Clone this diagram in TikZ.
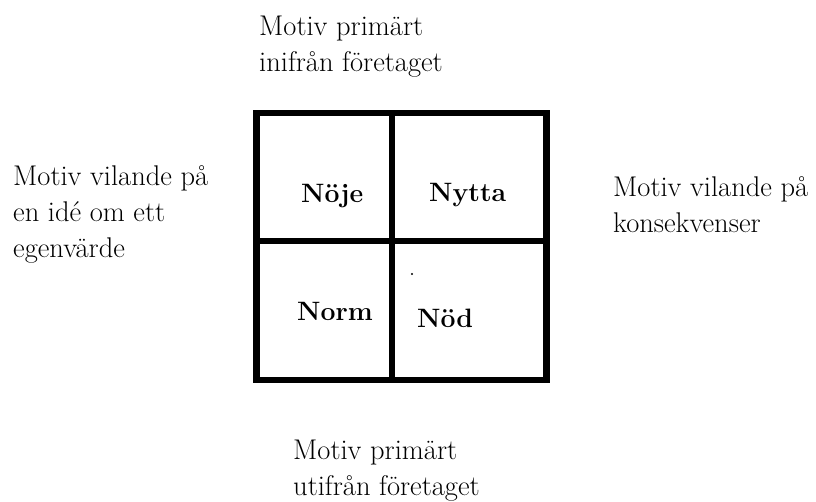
\documentclass[tikz,border=0pt]{standalone}
\begin{document}
\begin{tikzpicture}[x=1pt,y=-1pt,
  lbl/.style={anchor=base west,inner sep=0pt,font=\rmfamily\fontsize{28.5}{35}\selectfont},
  cell/.style={anchor=base west,inner sep=0pt,font=\rmfamily\fontsize{26.6}{36}\selectfont\bfseries},
  grid/.style={line width=6.3pt,line cap=rect,line join=miter}]
\useasboundingbox (0,0) rectangle (816,502);
% grid
\coordinate (tl) at (256.5,113);
\coordinate (br) at (546.5,380);
\coordinate (mt) at (392,113);
\coordinate (mb) at (392,380);
\coordinate (ml) at (256.5,241);
\coordinate (mr) at (546.5,241);
\draw[grid] (tl) rectangle (br);
\draw[line width=5.8pt] (mt) -- (mb);
\draw[line width=6.3pt] (ml) -- (mr);
% top
\node[lbl] (t1) at (259,36) {Motiv primärt};
\node[lbl] (t2) at (259,72) {inifrån företaget};
% left
\node[lbl] (l1) at (13,186) {Motiv vilande på};
\node[lbl] (l2) at (13,222) {en idé om ett};
\node[lbl] (l3) at (13,258) {egenvärde};
% right
\node[lbl] (r1) at (613,197) {Motiv vilande på};
\node[lbl] (r2) at (613,233) {konsekvenser};
% bottom
\node[lbl] (b1) at (293,459) {Motiv primärt};
\node[lbl] (b2) at (293,495) {utifrån företaget};
% cells
\node[cell] (noje) at (301,203) {Nöje};
\node[cell] (nytta) at (429,202) {Nytta};
\node[cell] (norm) at (297,320) {Norm};
\node[cell] (nod) at (417,328) {Nöd};
\fill (412,274) circle (1.2);
\end{tikzpicture}
\end{document}
